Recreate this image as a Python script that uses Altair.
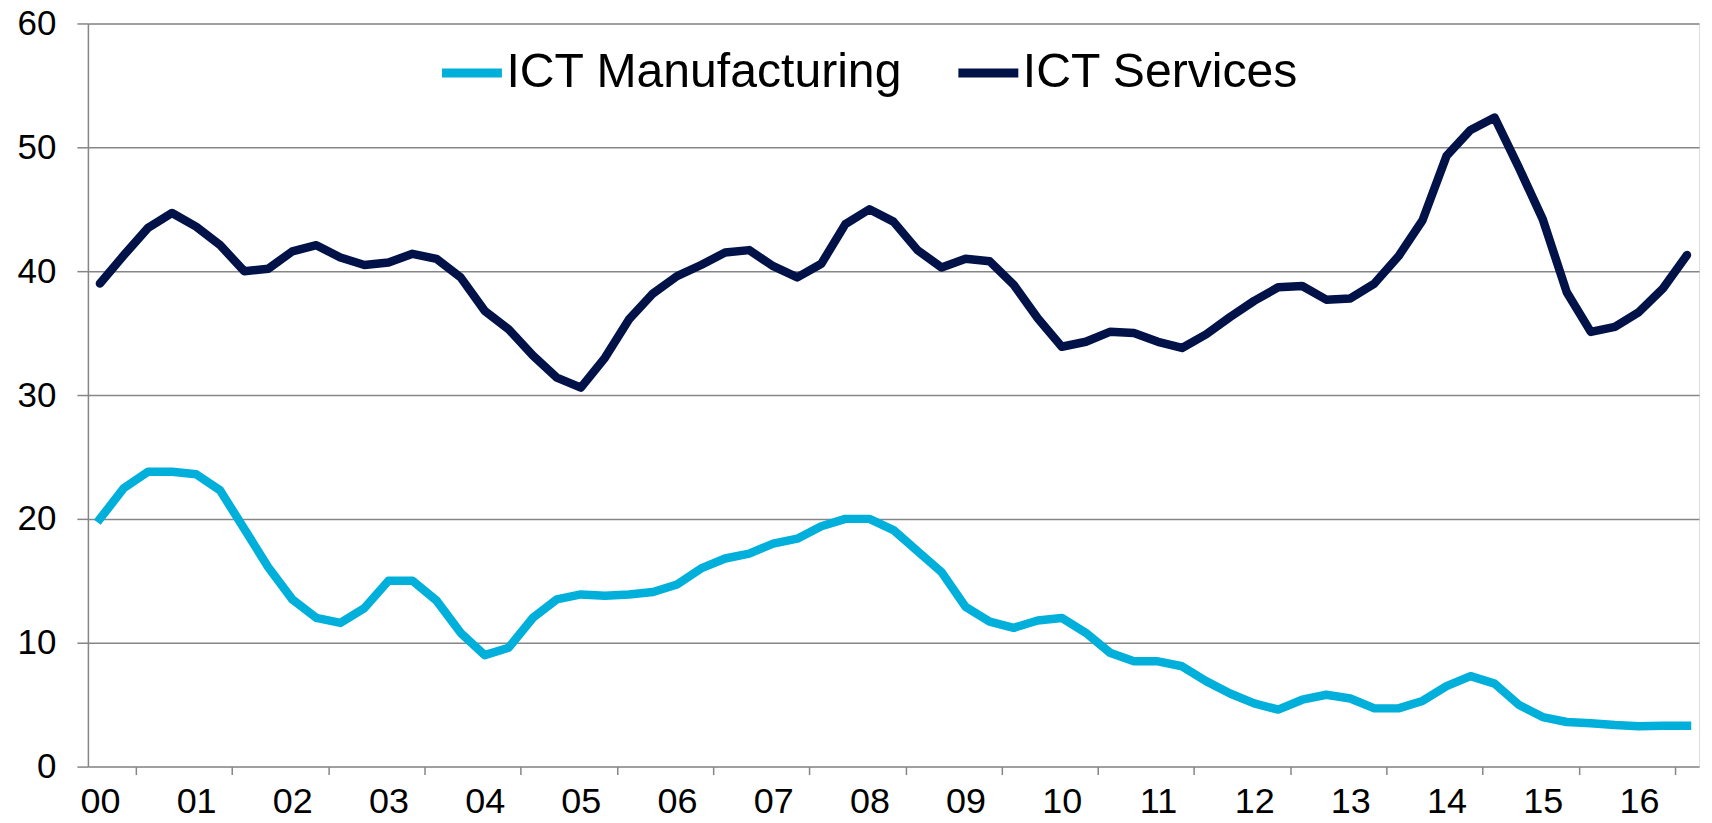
import altair as alt
import pandas as pd

year_labels = ["00", "01", "02", "03", "04", "05", "06", "07", "08",
               "09", "10", "11", "12", "13", "14", "15", "16"]

series_names = ["ICT Manufacturing", "ICT Services"]

ict_manufacturing = [
    20.0, 22.5, 23.8, 23.8, 23.6, 22.3, 19.2, 16.1, 13.5, 12.0,
    11.6, 12.8, 15.0, 15.0, 13.4, 10.8, 9.0, 9.6, 12.0, 13.5,
    13.9, 13.8, 13.9, 14.1, 14.7, 16.0, 16.8, 17.2, 18.0, 18.4,
    19.4, 20.0, 20.0, 19.1, 17.4, 15.7, 12.9, 11.7, 11.2, 11.8,
    12.0, 10.8, 9.2, 8.5, 8.5, 8.1, 6.9, 5.9, 5.1, 4.6,
    5.4, 5.8, 5.5, 4.7, 4.7, 5.3, 6.5, 7.3, 6.7, 5.0,
    4.0, 3.6, 3.5, 3.35, 3.25, 3.3, 3.3,
]

ict_services = [
    39.0, 41.3, 43.5, 44.7, 43.6, 42.1, 40.0, 40.2, 41.6, 42.1,
    41.1, 40.5, 40.7, 41.4, 41.0, 39.5, 36.8, 35.3, 33.2, 31.4,
    30.6, 33.0, 36.1, 38.2, 39.6, 40.5, 41.5, 41.7, 40.4, 39.5,
    40.6, 43.8, 45.0, 44.0, 41.7, 40.3, 41.0, 40.8, 38.9, 36.2,
    33.9, 34.3, 35.1, 35.0, 34.3, 33.8, 34.9, 36.3, 37.6, 38.7,
    38.8, 37.7, 37.8, 39.0, 41.2, 44.1, 49.3, 51.4, 52.4, 48.4,
    44.2, 38.3, 35.1, 35.5, 36.7, 38.6, 41.3,
]

colors = ["#00B0DA", "#001248"]

n = len(ict_services)
rows = []
for i, v in enumerate(ict_manufacturing):
    rows.append({"q": i, "value": v, "series": series_names[0]})
for i, v in enumerate(ict_services):
    rows.append({"q": i, "value": v, "series": series_names[1]})
df = pd.DataFrame(rows)

W = 1613
H = 744
band = W / n
FONT = "Liberation Sans"
GRID = "#868686"

label_array = "[" + ",".join("'" + s + "'" for s in year_labels) + "]"

x_enc = alt.X(
    "q:Q",
    scale=alt.Scale(domain=[-0.5, n - 0.5], nice=False, zero=False),
    axis=alt.Axis(
        values=[4 * k for k in range(len(year_labels))],
        labelExpr=label_array + "[round(datum.value / 4)]",
        title=None,
        grid=False,
        domain=False,
        ticks=True,
        tickSize=8,
        tickWidth=1.5,
        tickColor=GRID,
        tickOffset=1.5 * band,
        labelOffset=-1.5 * band,
        labelFont=FONT,
        labelFontSize=36,
        labelColor="#000000",
        labelPadding=10,
        labelAlign="center",
        labelBaseline="top",
    ),
)

y_enc = alt.Y(
    "value:Q",
    scale=alt.Scale(domain=[0, 60], nice=False),
    axis=alt.Axis(
        values=[0, 10, 20, 30, 40, 50, 60],
        title=None,
        grid=True,
        gridColor=GRID,
        gridWidth=1.5,
        domain=True,
        domainColor=GRID,
        domainWidth=1.5,
        tickSize=11,
        tickWidth=1.5,
        tickColor=GRID,
        labelFont=FONT,
        labelFontSize=35,
        labelColor="#000000",
        labelPadding=21,
    ),
)

color_enc = alt.Color(
    "series:N",
    scale=alt.Scale(domain=series_names, range=colors),
    title=None,
    legend=alt.Legend(
        orient="none",
        legendX=350,
        legendY=15,
        direction="horizontal",
        symbolType="stroke",
        symbolSize=3600,
        symbolStrokeWidth=9,
        labelFont=FONT,
        labelFontSize=48.2,
        labelColor="#000000",
        labelLimit=800,
        labelOffset=0,
        columnPadding=37,
        padding=0,
    ),
)

base = alt.Chart(df).encode(x=x_enc, y=y_enc, color=color_enc)

manu = base.transform_filter(alt.datum.series == series_names[0]).mark_line(
    strokeWidth=8.5, strokeCap="square", strokeJoin="round"
)
serv = base.transform_filter(alt.datum.series == series_names[1]).mark_line(
    strokeWidth=8.5, strokeCap="round", strokeJoin="round"
)

chart = (
    alt.layer(manu, serv)
    .properties(
        width=W,
        height=H,
        autosize=alt.AutoSizeParams(type="none"),
        padding={"left": 80, "top": 15, "right": 5, "bottom": 56},
    )
    .configure_view(stroke=None)
    .configure(background="#ffffff")
)

chart.save("out.html", embed_options={"renderer": "svg", "actions": False})
